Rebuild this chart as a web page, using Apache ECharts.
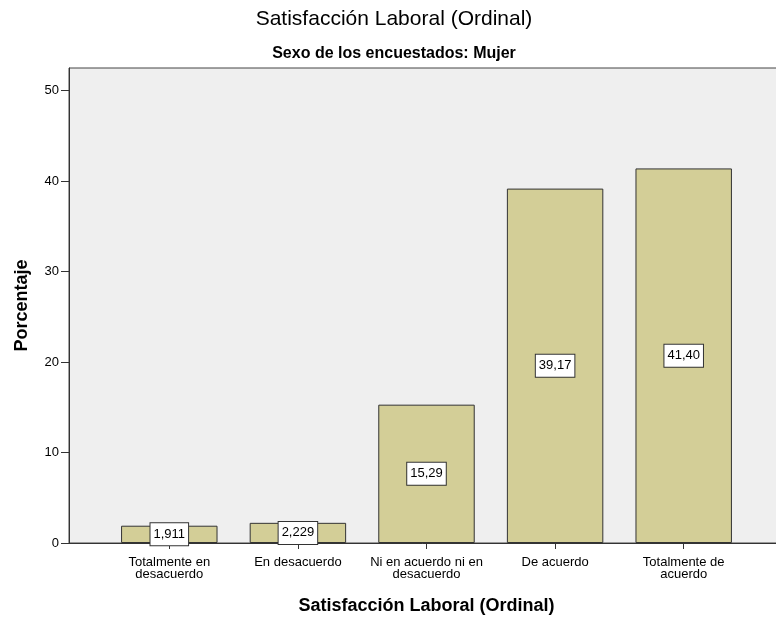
<!DOCTYPE html>
<html>
<head>
<meta charset="utf-8">
<script src="https://cdn.jsdelivr.net/npm/echarts@6/dist/echarts.min.js"></script>
<style>
  html, body { margin: 0; padding: 0; background: #fff; }
  #chart { width: 776px; height: 617px; }
</style>
</head>
<body>
<div id="chart"></div>
<script>
const categories = [
  'Totalmente en\ndesacuerdo',
  'En desacuerdo',
  'Ni en acuerdo ni en\ndesacuerdo',
  'De acuerdo',
  'Totalmente de\nacuerdo'
]
const percentages = [1.911, 2.229, 15.29, 39.17, 41.40]
const yTicks = [0, 10, 20, 30, 40, 50]
const yMax = 52.5

const font = 'Arial, "Liberation Sans", sans-serif'

const chart = echarts.init(document.getElementById('chart'))

// SPSS style: 4 significant digits, comma decimal
function fmt(v) {
  return v.toPrecision(4).replace('.', ',')
}

const option = {
  animation: false,
  textStyle: { fontFamily: font },
  title: [
    {
      text: 'Satisfacción Laboral (Ordinal)',
      left: 389,
      top: 4,
      textAlign: 'center',
      textStyle: { fontSize: 21, fontWeight: 'normal', color: '#000', fontFamily: font }
    },
    {
      text: 'Sexo de los encuestados: Mujer',
      left: 389,
      top: 41,
      textAlign: 'center',
      textStyle: { fontSize: 16, fontWeight: 'bold', color: '#000', fontFamily: font }
    }
  ],
  grid: [
    {
      // plot frame
      left: 69,
      right: -6,
      top: 68,
      bottom: 74,
      outerBoundsMode: 'none',
      show: true,
      backgroundColor: '#efefef',
      borderColor: '#444',
      borderWidth: 1
    },
    {
      // bars
      left: 105,
      right: 28,
      top: 68,
      bottom: 74,
      outerBoundsMode: 'none'
    }
  ],
  xAxis: [
    {
      gridIndex: 0,
      type: 'value',
      min: 0,
      max: 1,
      axisLine: { show: true, lineStyle: { color: '#333', width: 1 } },
      axisTick: { show: false },
      axisLabel: { show: false },
      splitLine: { show: false }
    },
    {
      gridIndex: 1,
      type: 'category',
      data: categories,
      axisLine: { show: false },
      axisTick: { show: true, alignWithLabel: true, length: 6, lineStyle: { color: '#333' } },
      axisLabel: { color: '#000', fontSize: 13, lineHeight: 12, margin: 13, interval: 0 },
      splitLine: { show: false },
      name: 'Satisfacción Laboral (Ordinal)',
      nameLocation: 'middle',
      nameGap: 54,
      nameTextStyle: { fontSize: 18, fontWeight: 'bold', color: '#000', fontFamily: font }
    }
  ],
  yAxis: [
    {
      gridIndex: 0,
      type: 'value',
      min: 0,
      max: yMax,
      interval: 10,
      axisLine: { show: true, lineStyle: { color: '#333', width: 1 } },
      axisTick: { show: true, length: 8, lineStyle: { color: '#333' }, customValues: yTicks },
      axisLabel: { color: '#000', fontSize: 13, margin: 10, customValues: yTicks },
      splitLine: { show: false },
      name: 'Porcentaje',
      nameLocation: 'middle',
      nameGap: 38,
      nameTextStyle: { fontSize: 18, fontWeight: 'bold', color: '#000', fontFamily: font }
    },
    {
      gridIndex: 1,
      type: 'value',
      min: 0,
      max: yMax,
      show: false
    }
  ],
  series: [
    {
      type: 'bar',
      xAxisIndex: 1,
      yAxisIndex: 1,
      data: percentages,
      barCategoryGap: '25%',
      itemStyle: { color: '#d3ce97', borderColor: '#333', borderWidth: 1 },
      label: {
        show: true,
        position: 'inside',
        formatter: p => fmt(p.value),
        color: '#000',
        fontSize: 13,
        backgroundColor: '#fff',
        borderColor: '#333',
        borderWidth: 1,
        padding: [5, 3, 4, 3]
      }
    }
  ]
}

chart.setOption(option)
</script>
</body>
</html>
